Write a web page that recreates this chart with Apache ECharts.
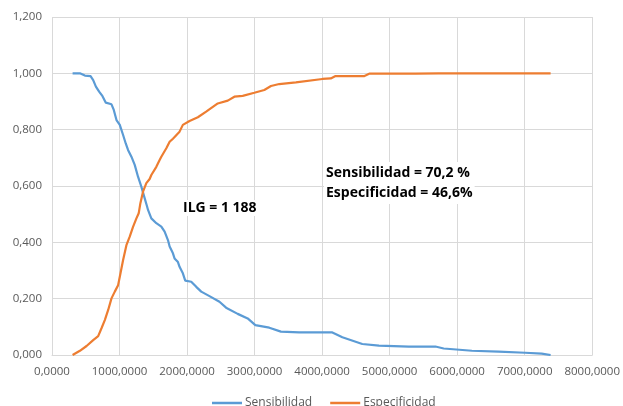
<!DOCTYPE html>
<html>
<head>
<meta charset="utf-8">
<script src="https://cdn.jsdelivr.net/npm/echarts@6/dist/echarts.min.js"></script>
<style>html,body{margin:0;padding:0;background:#fff;}#c{width:623px;height:406px;}</style>
</head>
<body>
<div id="c"></div>
<script>
var xTicks = [0, 1000, 2000, 3000, 4000, 5000, 6000, 7000, 8000];
var yTicks = [0, 0.2, 0.4, 0.6, 0.8, 1.0, 1.2];
var seriesNames = ['Sensibilidad', 'Especificidad'];

var sensX = [305,413,487,571,610,650,698,748,797,881,915,955,1004,1053,1092,1126,1176,1225,1274,1324,1373,1407,1422,1471,1545,1619,1668,1717,1742,1791,1815,1865,1889,1938,1973,2062,2136,2210,2332,2480,2578,2750,2898,3011,3218,3390,3661,4152,4300,4595,4841,5284,5678,5801,6218,6613,7006,7252,7384];
var sensY = [1.000,1.000,0.992,0.990,0.976,0.953,0.935,0.919,0.896,0.890,0.870,0.834,0.817,0.781,0.751,0.728,0.704,0.675,0.633,0.597,0.556,0.528,0.515,0.485,0.468,0.456,0.438,0.408,0.385,0.361,0.343,0.330,0.313,0.290,0.264,0.260,0.242,0.225,0.209,0.189,0.168,0.146,0.130,0.106,0.097,0.083,0.080,0.080,0.063,0.039,0.033,0.030,0.030,0.023,0.015,0.012,0.008,0.005,0.000];

var espX = [305,413,512,610,684,733,782,832,881,930,979,1004,1053,1102,1151,1200,1250,1284,1309,1348,1397,1446,1471,1545,1594,1619,1693,1742,1791,1889,1938,2037,2160,2283,2455,2603,2701,2824,2996,3144,3243,3365,3612,4004,4128,4192,4620,4704,5382,5727,7384];
var espY = [0.000,0.015,0.032,0.053,0.067,0.095,0.124,0.160,0.201,0.225,0.248,0.278,0.337,0.390,0.420,0.455,0.485,0.503,0.539,0.580,0.610,0.625,0.639,0.668,0.692,0.704,0.734,0.757,0.768,0.793,0.817,0.831,0.844,0.864,0.893,0.903,0.917,0.920,0.931,0.941,0.955,0.962,0.968,0.980,0.982,0.990,0.990,0.999,0.999,1.000,1.000];

var annotIlg = 'ILG = 1 188';
var annotLines = ['Sensibilidad = 70,2 %', 'Especificidad = 46,6%'];

function pairs(xs, ys) { return xs.map(function (x, i) { return [x, ys[i]]; }); }

var FONT = 'Open Sans';
var chart = echarts.init(document.getElementById('c'), null, { renderer: 'canvas' });
chart.setOption({
  animation: false,
  backgroundColor: '#ffffff',
  textStyle: { fontFamily: FONT },
  grid: { left: 52, right: 29, top: 17, bottom: 51, containLabel: false },
  xAxis: {
    type: 'value',
    min: xTicks[0], max: xTicks[xTicks.length - 1], interval: xTicks[1] - xTicks[0],
    axisLine: { show: true, lineStyle: { color: '#d9d9d9', width: 1 } },
    axisTick: { show: false },
    splitLine: { show: true, lineStyle: { color: '#d9d9d9', width: 1 } },
    axisLabel: {
      color: '#595959', fontSize: 11.5, fontFamily: FONT, margin: 11,
      formatter: function (v) { return v.toFixed(4).replace('.', ','); }
    }
  },
  yAxis: {
    type: 'value',
    min: yTicks[0], max: yTicks[yTicks.length - 1], interval: 0.2,
    axisLine: { show: false },
    axisTick: { show: false },
    splitLine: { show: true, lineStyle: { color: '#d9d9d9', width: 1 } },
    axisLabel: {
      color: '#595959', fontSize: 11.5, fontFamily: FONT, margin: 10,
      formatter: function (v) { return v.toFixed(3).replace('.', ','); }
    }
  },
  legend: {
    data: [
      { name: seriesNames[0], icon: 'rect', itemStyle: { color: '#5B9BD5' } },
      { name: seriesNames[1], icon: 'rect', itemStyle: { color: '#ED7D31' } }
    ],
    bottom: -8,
    left: 207,
    itemWidth: 30, itemHeight: 2.5, itemGap: 18,
    textStyle: { color: '#595959', fontSize: 12, fontFamily: FONT, padding: [0, 0, 0, -2] }
  },
  series: [
    {
      name: seriesNames[0], type: 'line', data: pairs(sensX, sensY),
      symbol: 'none', lineStyle: { color: '#5B9BD5', width: 2.2 }, itemStyle: { color: '#5B9BD5' }
    },
    {
      name: seriesNames[1], type: 'line', data: pairs(espX, espY),
      symbol: 'none', lineStyle: { color: '#ED7D31', width: 2.2 }, itemStyle: { color: '#ED7D31' }
    }
  ],
  graphic: [
    { type: 'text', z: 100, left: 181, top: 200, style: { text: annotIlg, font: 'bold 14px "Open Sans"', fill: '#000', backgroundColor: '#fff', padding: [1, 2] } },
    { type: 'text', z: 100, left: 324, top: 162, style: { text: annotLines[0] + '\n' + annotLines[1], font: 'bold 14px "Open Sans"', lineHeight: 20, fill: '#000', backgroundColor: '#fff', padding: [1, 2] } }
  ]
});
</script>
</body>
</html>
